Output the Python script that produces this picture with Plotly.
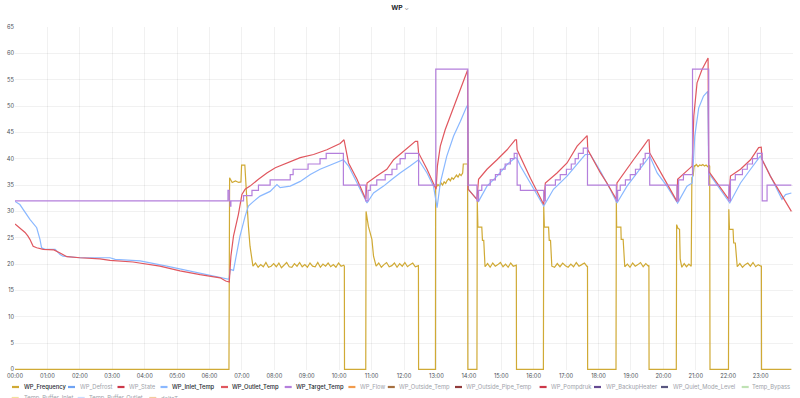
import numpy as np
import pandas as pd
import plotly.graph_objects as go

BASE = pd.Timestamp("2024-01-15 00:00")

# ---------------- data (hours since midnight, values) ----------------
outlet_h = [0.00, 0.15, 0.31, 0.40, 0.46, 0.56, 0.67, 0.87, 1.20, 1.39, 1.60, 2.00, 2.62, 2.93, 3.64, 4.47, 5.09, 5.71, 6.33, 6.50, 6.61,
            6.66, 6.74, 6.89, 7.00, 7.10, 7.25, 7.51, 7.77, 8.03, 8.39, 8.80, 9.21, 9.62, 10.03, 10.15,
            10.29, 10.55, 10.82,
            10.86, 11.16, 11.47, 11.68, 11.88, 12.14, 12.35, 12.42,
            12.45, 12.71, 12.91, 12.99,
            13.03, 13.12, 13.27, 13.43, 13.63, 13.79, 13.92, 13.96,
            13.98, 14.25,
            14.30, 14.56, 14.87, 15.18, 15.43, 15.47,
            15.49, 15.90, 16.31,
            16.36, 16.72, 17.03, 17.34, 17.59, 17.65,
            17.67, 18.06, 18.26, 18.55,
            18.57, 18.78, 19.08, 19.39, 19.53, 19.56,
            19.58, 20.00, 20.42,
            20.44, 20.73, 20.89, 20.94, 21.04, 21.19, 21.33, 21.38,
            21.40, 22.02,
            22.07, 22.38, 22.69, 22.94, 23.02,
            23.05, 23.30, 23.61, 23.95]
outlet_v = [27.6, 26.9, 26.0, 25.3, 24.7, 23.4, 23.1, 22.8, 22.7, 22.1, 21.4, 21.2, 21.0, 20.7, 20.4, 19.6, 18.7, 18.0, 17.4, 16.8, 16.6,
            21.5, 25.3, 29.4, 33.2, 34.2, 34.8, 36.1, 37.3, 38.3, 39.2, 40.2, 40.8, 41.7, 42.9, 43.6,
            39.2, 36.1, 32.3,
            35.4, 36.7, 38.0, 39.8, 40.8, 42.1, 43.3, 43.3,
            41.1, 38.0, 35.4, 34.2,
            38.6, 42.4, 45.5, 48.1, 51.2, 53.8, 56.0, 56.8,
            34.2, 32.3,
            36.1, 38.0, 39.8, 41.7, 43.6, 43.6,
            41.7, 36.3, 31.3,
            35.4, 37.3, 39.2, 42.4, 43.9, 44.4,
            41.7, 37.3, 35.4, 32.3,
            35.4, 37.3, 39.8, 42.4, 43.6, 43.6,
            41.1, 36.5, 31.9,
            36.1, 37.6, 38.6, 48.1, 54.4, 56.9, 58.5, 59.1,
            37.6, 32.3,
            36.7, 38.0, 39.8, 42.1, 42.2,
            39.8, 36.7, 33.5, 30.0]

inlet_h = [0.00, 0.15, 0.46, 0.67, 0.77, 0.82, 0.93, 1.24, 1.39, 1.48, 2.00, 2.93, 3.09, 3.86, 4.68, 5.30, 5.92, 6.43, 6.60,
           6.64, 6.74, 6.84, 6.94, 7.10, 7.20, 7.36, 7.56, 7.87, 8.08, 8.18, 8.49, 8.80, 9.11, 9.41, 9.82, 10.13,
           10.29, 10.55, 10.86,
           11.06, 11.37, 11.63, 11.88, 12.19, 12.45,
           12.71, 12.91, 13.02,
           13.12, 13.32, 13.53, 13.74, 13.94, 13.97,
           13.99, 14.15, 14.30,
           14.56, 14.87, 15.18, 15.43, 15.49,
           15.59, 16.31,
           16.61, 17.03, 17.44, 17.59, 17.75,
           18.06, 18.36, 18.57,
           18.88, 19.19, 19.50, 19.58,
           19.81, 20.11, 20.44,
           20.73, 20.89, 20.97, 21.09, 21.24, 21.37,
           21.40, 22.05,
           22.38, 22.69, 22.99,
           23.20, 23.51, 23.66, 23.77, 23.95]
inlet_v = [31.9, 31.3, 28.5, 26.9, 24.7, 23.1, 22.8, 22.8, 21.8, 21.5, 21.2, 21.2, 20.9, 20.6, 19.6, 18.8, 18.0, 17.4, 17.1,
           19.0, 18.8, 22.1, 25.3, 29.1, 31.0, 31.9, 32.9, 33.8, 35.1, 34.5, 34.8, 35.7, 37.0, 38.0, 39.1, 39.8,
           38.6, 35.4, 31.6,
           33.5, 34.8, 36.1, 37.3, 38.6, 39.8,
           37.3, 34.8, 30.7,
           35.4, 40.5, 44.3, 47.1, 50.0, 50.0,
           34.2, 33.0, 31.9,
           34.8, 36.7, 38.9, 40.2, 40.0,
           38.6, 31.0,
           34.2, 36.7, 39.8, 40.8, 40.8,
           37.6, 34.2, 31.6,
           34.8, 37.3, 39.8, 40.5,
           37.3, 34.8, 31.6,
           34.8, 35.4, 44.3, 49.6, 51.9, 52.8,
           37.3, 31.6,
           35.4, 38.0, 40.5,
           38.0, 34.2, 32.3, 33.2, 33.5]

target_h = [0.00, 6.57, 6.61, 6.64, 6.66, 7.05, 7.31, 7.51, 7.87, 8.49, 8.58, 9.04, 9.41, 9.60, 10.13,
            10.82, 10.89, 10.96, 11.16, 11.42, 11.63, 11.78, 11.88, 12.04, 12.45, 12.98, 13.97,
            14.25, 14.30, 14.40, 14.66, 14.82, 14.97, 15.12, 15.28, 15.40, 15.49, 15.59,
            16.31, 16.36, 16.67, 16.82, 17.01, 17.16, 17.28, 17.38, 17.53, 17.66,
            18.55, 18.59, 18.67, 18.83, 18.98, 19.14, 19.29, 19.38, 19.44, 19.58,
            20.42, 20.47, 20.62, 20.90, 21.40,
            22.02, 22.07, 22.22, 22.44, 22.59, 22.75, 22.90, 23.05, 23.20, 23.95]
target_v = [32, 34, 32, 31, 32, 33, 34, 35, 36, 37, 38, 39, 40, 41, 35,
            32, 34, 35, 36, 37, 38, 39, 40, 41, 35, 57, 35,
            32, 34, 35, 36, 37, 38, 39, 40, 41, 35, 34,
            32, 35, 36, 37, 38, 39, 40, 41, 42, 35,
            32, 34, 35, 36, 37, 38, 39, 40, 41, 35,
            32, 36, 37, 57, 35,
            32, 36, 37, 38, 39, 40, 41, 32, 35, 35]

freq_h = [0.0, 6.60,
          6.62, 6.70, 6.80, 6.90, 6.97, 6.99, 7.09, 7.12, 7.20, 7.25, 7.31,
          10.16, 10.165,
          10.82, 10.83, 10.90, 11.01, 11.06, 11.11,
          12.445, 12.45,
          12.97, 12.975,
          13.83, 13.96, 13.97,
          14.25, 14.26, 14.28, 14.40, 14.42, 14.46, 14.48,
          15.465, 15.47,
          16.30, 16.31, 16.33, 16.46, 16.48, 16.52, 16.54,
          17.66, 17.665,
          18.54, 18.55, 18.56, 18.69, 18.70, 18.76, 18.79,
          19.555, 19.56,
          20.40, 20.41, 20.45, 20.50, 20.52, 20.55,
          20.88, 20.92, 20.95,
          21.43, 21.44,
          22.01, 22.02, 22.04, 22.15, 22.17, 22.22, 22.26,
          23.025, 23.03, 23.95]
freq_v = [0, 0,
          36.4, 35.5, 35.8, 35.5, 35.6, 38.8, 38.8, 34.8, 27.2, 23.4, 20.2,
          19.6, 0,
          0, 30.0, 27.2, 24.7, 21.5, 19.9,
          19.7, 0,
          0, 34.5,
          39.0, 39.0, 0,
          0, 32.0, 27.0, 27.0, 24.5, 24.5, 20.0,
          19.8, 0,
          0, 31.0, 27.0, 27.0, 24.5, 24.5, 20.0,
          19.7, 0,
          0, 32.0, 27.0, 27.0, 24.7, 24.7, 20.3,
          19.8, 0,
          0, 27.5, 26.8, 26.6, 21.0, 20.0,
          36.4, 36.8, 38.7,
          38.6, 0,
          0, 30.4, 26.6, 26.6, 24.0, 24.0, 20.3,
          19.7, 0, 0]

# regularly sampled stretches of the frequency signal: (start h, end h, samples)
freq_runs = [
    (7.34, 10.14, [19.6, 20.2, 19.4, 19.9, 19.5, 20.3, 19.4, 19.6, 20.1, 19.5, 20.2, 19.3, 19.8, 20.3, 19.5, 19.4, 20.1, 19.6,
                   20.3, 19.5, 19.9, 19.4, 20.2, 19.6, 19.5, 20.3, 19.4, 20.0, 19.6, 20.2, 19.5, 19.9, 19.4, 20.2, 19.6, 19.8]),
    (11.14, 12.43, [19.6, 20.2, 19.4, 19.9, 20.3, 19.5, 19.7, 20.2, 19.4, 20.1, 19.6, 20.3, 19.5, 19.9, 20.2, 19.5, 19.8]),
    (13.00, 13.81, [34.6, 35.1, 34.8, 35.4, 35.0, 35.6, 35.3, 35.9, 36.2, 35.8, 36.4, 36.1, 36.6, 36.9, 36.5, 37.1, 36.8, 37.3]),
    (14.50, 15.45, [19.5, 20.1, 19.4, 20.2, 19.6, 19.9, 20.3, 19.5, 20.0, 19.4, 20.2, 19.6, 19.9]),
    (16.56, 17.65, [19.6, 19.4, 20.1, 19.5, 20.2, 19.7, 19.4, 20.0, 19.5, 20.3, 19.6, 19.9, 20.2, 19.5]),
    (18.81, 19.54, [19.5, 20.0, 19.4, 20.2, 19.6, 19.9, 20.3, 19.5, 20.1, 19.6]),
    (20.57, 20.86, [19.4, 20.1, 19.5, 20.0, 19.6]),
    (20.97, 21.42, [38.6, 38.9, 38.5, 38.8, 38.7, 38.9, 38.6, 38.8, 38.5, 38.7]),
    (22.28, 23.01, [19.5, 20.1, 19.4, 19.9, 20.2, 19.6, 20.3, 19.5, 19.9, 19.6]),
]

tick_hours = list(range(24))
tick_labels = ["%02d:00" % h for h in tick_hours]

legend_names = ["WP_Frequency", "WP_Defrost", "WP_State", "WP_Inlet_Temp", "WP_Outlet_Temp", "WP_Target_Temp",
                "WP_Flow", "WP_Outside_Temp", "WP_Outside_Pipe_Temp", "WP_Pompdruk", "WP_BackupHeater",
                "WP_Quiet_Mode_Level", "Temp_Bypass", "Temp_Buffer_Inlet", "Temp_Buffer_Outlet", "deltaT"]
legend_colors = ["#D0AA35", "#5794F2", "#C4162A", "#8AB8FF", "#E0575F", "#B47FDC",
                 "#F08A2C", "#96561E", "#7E1A1A", "#C4162A", "#4B2B7F",
                 "#3D3A6B", "#B5DDA8", "#F2DC8C", "#C0D8FF", "#F1C58F"]
legend_shown = [True, False, False, True, True, True, False, False, False, False, False, False, False, False, False, False]

# ---------------- build ----------------
def to_time(hours):
    return BASE + pd.to_timedelta(np.asarray(hours, dtype=float), unit="h")

fh = list(freq_h)
fv = list(freq_v)
for a, b, vals in freq_runs:
    fh += list(np.linspace(a, b, len(vals)))
    fv += vals
order = np.argsort(np.array(fh), kind="stable")
fh = np.array(fh)[order]
fv = np.array(fv)[order]

fig = go.Figure()
fig.add_trace(go.Scatter(x=to_time(fh), y=fv, mode="lines", name="WP_Frequency",
                         line=dict(color=legend_colors[0], width=1.2)))
fig.add_trace(go.Scatter(x=to_time(inlet_h), y=inlet_v, mode="lines", name="WP_Inlet_Temp",
                         line=dict(color=legend_colors[3], width=1.2)))
fig.add_trace(go.Scatter(x=to_time(outlet_h), y=outlet_v, mode="lines", name="WP_Outlet_Temp",
                         line=dict(color=legend_colors[4], width=1.2)))
fig.add_trace(go.Scatter(x=to_time(target_h), y=target_v, mode="lines", name="WP_Target_Temp",
                         line=dict(color=legend_colors[5], width=1.2, shape="hv")))

W, H = 800, 398
L, R, T, B = 15, 7, 27, 28
PW, PH = W - L - R, H - T - B

def fx(px):
    return (px - L) / PW

def fy(py):
    return (H - B - py) / PH

# legend layout (pixel positions of symbol start, text start, row centre)
leg_sym_x = [12, 68, 117.5, 160.5, 221, 284.7, 348.4, 387.8, 455, 539.6, 594, 661, 741.7, 11.7, 77.7, 149.3]
leg_txt_x = [22.5, 79, 128, 171, 231.3, 295.1, 358.8, 398.2, 465.4, 550, 605, 671.7, 750.7, 22.7, 88.3, 160]
leg_row_y = [387] * 13 + [398] * 3

shapes = []
annotations = []
for name, col, shown, sx, tx, ry in zip(legend_names, legend_colors, legend_shown, leg_sym_x, leg_txt_x, leg_row_y):
    shapes.append(dict(type="line", xref="paper", yref="paper", x0=fx(sx), x1=fx(sx + 7), y0=fy(ry), y1=fy(ry),
                       line=dict(color=col, width=2.2), opacity=1.0 if shown else 0.85))
    annotations.append(dict(xref="paper", yref="paper", x=fx(tx), y=fy(ry), xanchor="left", yanchor="middle",
                            text=name, showarrow=False, borderpad=0,
                            font=dict(family="Inter", size=5.8, color="#24292E" if shown else "#9EA3AA",
                                      weight=500 if shown else 400)))

fig.update_layout(
    width=W, height=H,
    margin=dict(l=L, r=R, t=T, b=B),
    paper_bgcolor="white", plot_bgcolor="white",
    showlegend=False,
    font=dict(family="Inter", size=5.7, color="#4B5158"),
    title=dict(text="<b>WP</b> <span style='font-size:5.5px;color:#6e737a'>⌄</span>",
               x=0.5, xref="container", xanchor="center",
               y=1 - 8 / H, yref="container", yanchor="middle",
               font=dict(family="Inter", size=6.8, color="#24292E")),
    shapes=shapes,
    annotations=annotations,
)
fig.update_xaxes(
    type="date",
    range=[BASE, BASE + pd.Timedelta(hours=24)],
    tickvals=to_time(tick_hours), ticktext=tick_labels,
    showgrid=True, gridcolor="rgba(0,0,0,0.055)", gridwidth=1,
    zeroline=False, showline=False, ticks="",
    ticklabelstandoff=1,
    tickfont=dict(family="Inter", size=5.7, color="#4B5158"),
)
fig.update_yaxes(
    range=[-0.1, 65], tick0=0, dtick=5,
    showgrid=True, gridcolor="rgba(0,0,0,0.055)", gridwidth=1,
    zeroline=False, showline=False, ticks="",
    tickfont=dict(family="Inter", size=5.7, color="#4B5158"),
)

fig.write_html("out.html", config={"displayModeBar": False},
               post_script="document.body.style.margin='0';")
